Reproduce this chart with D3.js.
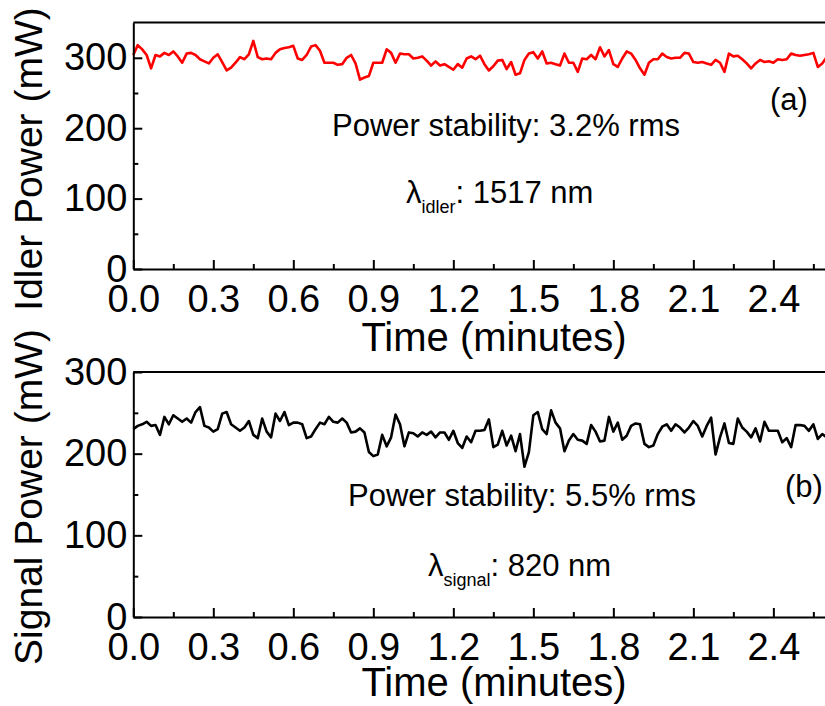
<!DOCTYPE html>
<html>
<head>
<meta charset="utf-8">
<script src="https://cdnjs.cloudflare.com/ajax/libs/d3/7.8.5/d3.min.js"></script>
<style>
    body { margin: 0; background: #fff; }
    svg { display: block; font-family: 'Liberation Sans', Arial, Helvetica, sans-serif; }
</style>
</head>
<body>
<div id="chart"></div>
<script>
// one reading per second, time axis in minutes
const idlerPower = [
    304, 318, 312, 304, 285, 304, 302, 307, 304, 309,
    302, 293, 306, 307, 304, 298, 295, 292, 300, 305,
    294, 282, 286, 293, 301, 298, 305, 324, 301, 298,
    299, 298, 307, 312, 314, 315, 317, 299, 297, 304,
    316, 318, 310, 293, 293, 293, 290, 291, 300, 304,
    292, 269, 272, 274, 293, 293, 293, 312, 307, 293,
    306, 305, 305, 299, 300, 302, 296, 289, 295, 289,
    291, 287, 283, 291, 286, 299, 302, 298, 303, 291,
    282, 288, 296, 297, 284, 294, 276, 278, 297, 306,
    308, 299, 309, 292, 293, 291, 289, 306, 293, 293,
    280, 299, 298, 304, 298, 315, 302, 311, 291, 287,
    299, 309, 306, 297, 285, 276, 293, 298, 298, 306,
    301, 299, 300, 300, 307, 306, 294, 293, 294, 292,
    290, 297, 293, 280, 306, 302, 303, 298, 292, 285,
    292, 297, 294, 295, 293, 298, 297, 298, 306, 304,
    303, 304, 305, 307, 287, 292, 301
];
const signalPower = [
    230, 234, 236, 239, 234, 235, 223, 245, 236, 247,
    243, 239, 243, 238, 251, 257, 234, 232, 227, 230,
    249, 251, 236, 232, 228, 232, 240, 223, 219, 243,
    227, 220, 249, 240, 251, 235, 238, 238, 236, 219,
    221, 230, 238, 236, 245, 239, 238, 243, 238, 226,
    227, 231, 226, 202, 197, 199, 223, 209, 220, 248,
    236, 209, 226, 225, 221, 226, 223, 227, 220, 226,
    226, 217, 228, 213, 207, 221, 214, 228, 228, 229,
    242, 208, 211, 228, 210, 222, 203, 224, 184, 202,
    247, 251, 230, 224, 253, 238, 231, 203, 216, 224,
    217, 216, 212, 235, 227, 215, 216, 245, 227, 238,
    217, 222, 234, 237, 236, 212, 208, 210, 224, 233,
    236, 228, 236, 232, 226, 232, 240, 234, 221, 234,
    244, 199, 220, 237, 213, 212, 243, 232, 227, 220,
    231, 215, 239, 228, 228, 228, 214, 219, 208, 235,
    235, 234, 228, 236, 218, 224, 220
];
const timeDomain = [0, 2.6];
const timeTicks = [0, 0.3, 0.6, 0.9, 1.2, 1.5, 1.8, 2.1, 2.4];
const timeMinorTicks = [0.15, 0.45, 0.75, 1.05, 1.35, 1.65, 1.95, 2.25, 2.55];
const powerTicks = [0, 100, 200, 300];
const idlerMinorTicks = [50, 150, 250];
const signalMinorTicks = [50, 150, 250];

const width = 825, height = 706;
const svg = d3.select('#chart').append('svg')
    .attr('width', width)
    .attr('height', height);

class PowerPanel {

    constructor(svg, opts) {
        this.svg = svg;
        this.opts = opts;
        this.render();
    }

    render() {
        const o = this.opts;
        const g = this.svg.append('g');

        const x = d3.scaleLinear().domain(timeDomain).range([o.left, o.right]);
        const y = d3.scaleLinear().domain(o.yDomain).range([o.bottom, o.top]);

        // frame lines (top + right, right one falls just off the page)
        g.append('line')
            .attr('x1', o.left).attr('x2', o.right)
            .attr('y1', o.top).attr('y2', o.top)
            .style('stroke', '#000').style('stroke-width', 2);
        g.append('line')
            .attr('x1', o.right).attr('x2', o.right)
            .attr('y1', o.top).attr('y2', o.bottom)
            .style('stroke', '#000').style('stroke-width', 2);

        const line = d3.line()
            .x((d, i) => x(i / 60))
            .y(d => y(d));

        g.append('path')
            .datum(o.values)
            .attr('d', line)
            .style('fill', 'none')
            .style('stroke', o.color)
            .style('stroke-width', 2.6)
            .style('stroke-linejoin', 'round');

        g.append('g')
            .attr('transform', `translate(0,${o.bottom})`)
            .call(d3.axisBottom(x)
                .tickValues(timeTicks)
                .tickFormat(d3.format('.1f'))
                .tickSizeInner(-9)
                .tickSizeOuter(0)
                .tickPadding(16));
        g.append('g')
            .attr('transform', `translate(0,${o.bottom})`)
            .call(d3.axisBottom(x)
                .tickValues(timeMinorTicks)
                .tickFormat('')
                .tickSizeInner(-5)
                .tickSizeOuter(0))
            .select('.domain').remove();

        g.append('g')
            .attr('transform', `translate(${o.left},0)`)
            .call(d3.axisLeft(y)
                .tickValues(powerTicks)
                .tickFormat(d3.format('d'))
                .tickSizeInner(-9)
                .tickSizeOuter(0)
                .tickPadding(6));
        g.append('g')
            .attr('transform', `translate(${o.left},0)`)
            .call(d3.axisLeft(y)
                .tickValues(o.minorTicks)
                .tickFormat('')
                .tickSizeInner(-5)
                .tickSizeOuter(0))
            .select('.domain').remove();

        g.selectAll('.domain, .tick line')
            .style('stroke', '#000')
            .style('stroke-width', 2);
        g.selectAll('.tick text')
            .style('font-size', '38px')
            .style('font-family', "'Liberation Sans', Arial, sans-serif")
            .style('fill', '#000');

        // axis titles
        g.append('text')
            .attr('x', 494)
            .attr('y', o.xTitleY)
            .attr('text-anchor', 'middle')
            .style('font-size', '40px')
            .text('Time (minutes)');

        g.append('text')
            .attr('transform', `translate(${o.yTitleX},${o.yTitleY}) rotate(-90)`)
            .attr('text-anchor', 'middle')
            .style('font-size', '39px')
            .text(o.yTitle);

        // annotations
        g.append('text')
            .attr('x', o.noteX)
            .attr('y', o.noteY)
            .style('font-size', '31px')
            .text(o.note);

        g.append('text')
            .attr('x', o.tagX)
            .attr('y', o.tagY)
            .style('font-size', '31px')
            .text(o.tag);

        const lam = g.append('text')
            .attr('x', o.lamX)
            .attr('y', o.lamY)
            .style('font-size', '31px');
        lam.append('tspan').text('\u03bb');
        lam.append('tspan')
            .attr('dy', 10)
            .style('font-size', '18px')
            .text(o.lamSub);
        lam.append('tspan')
            .attr('dy', -10)
            .text(': ' + o.lamValue);
    }
}

new PowerPanel(svg, {
    values: idlerPower,
    color: '#ff0000',
    yDomain: [0, 350],
    minorTicks: idlerMinorTicks,
    left: 133.3, right: 826.7, top: 22.6, bottom: 269,
    xTitleY: 351,
    yTitle: 'Idler Power (mW)', yTitleX: 42, yTitleY: 159,
    note: 'Power stability: 3.2% rms', noteX: 332, noteY: 136,
    tag: '(a)', tagX: 770, tagY: 110,
    lamX: 406, lamY: 203, lamSub: 'idler', lamValue: '1517 nm'
});

new PowerPanel(svg, {
    values: signalPower,
    color: '#000000',
    yDomain: [0, 300],
    minorTicks: signalMinorTicks,
    left: 133.3, right: 826.7, top: 372, bottom: 617,
    xTitleY: 696,
    yTitle: 'Signal Power (mW)', yTitleX: 42, yTitleY: 497,
    note: 'Power stability: 5.5% rms', noteX: 348, noteY: 506,
    tag: '(b)', tagX: 785, tagY: 497,
    lamX: 428, lamY: 576, lamSub: 'signal', lamValue: '820 nm'
});
</script>
</body>
</html>
